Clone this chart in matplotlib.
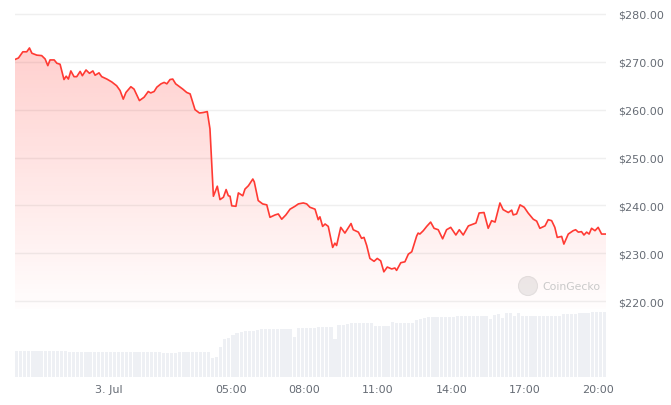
import numpy as np
import matplotlib
matplotlib.use("Agg")
import matplotlib.pyplot as plt
from matplotlib.patches import Ellipse
from matplotlib.colors import LinearSegmentedColormap

# price, hours since 3 Jul 00:00
hours = [-3.82, -3.68, -3.50, -3.34, -3.23, -3.13, -2.93, -2.73, -2.59, -2.48,
         -2.39, -2.22, -2.11, -1.98, -1.82, -1.73, -1.64, -1.54, -1.41, -1.30,
         -1.16, -1.07, -0.92, -0.78, -0.64, -0.55, -0.39, -0.28, -0.07, 0.13,
         0.33, 0.47, 0.60, 0.71, 0.91, 1.04, 1.26, 1.45, 1.62, 1.72,
         1.86, 1.97, 2.14, 2.27, 2.38, 2.51, 2.62, 2.74, 2.92, 3.03,
         3.19, 3.33, 3.53, 3.71, 3.86, 4.03, 4.14, 4.28, 4.44, 4.55,
         4.69, 4.80, 4.89, 4.96, 5.03, 5.20, 5.30, 5.48, 5.57, 5.71,
         5.89, 5.95, 6.11, 6.29, 6.46, 6.59, 6.80, 6.93, 7.07, 7.24,
         7.41, 7.61, 7.75, 7.95, 8.09, 8.22, 8.43, 8.56, 8.63, 8.74,
         8.84, 8.97, 9.15, 9.24, 9.31, 9.48, 9.65, 9.75, 9.90, 9.99,
         10.20, 10.33, 10.43, 10.54, 10.67, 10.84, 10.97, 11.11, 11.24, 11.38,
         11.56, 11.69, 11.76, 11.93, 12.10, 12.24, 12.38, 12.58, 12.64, 12.71,
         12.85, 12.99, 13.15, 13.29, 13.46, 13.64, 13.80, 13.97, 14.18, 14.32,
         14.48, 14.69, 14.89, 15.00, 15.13, 15.33, 15.50, 15.64, 15.78, 15.98,
         16.11, 16.32, 16.46, 16.52, 16.66, 16.80, 16.97, 17.13, 17.34, 17.48,
         17.61, 17.82, 17.95, 18.09, 18.22, 18.32, 18.50, 18.59, 18.77, 18.97,
         19.07, 19.18, 19.31, 19.41, 19.52, 19.62, 19.72, 19.86, 19.99, 20.13,
         20.31]
prices = [270.5, 270.8, 272.1, 272.1, 272.9, 271.8, 271.4, 271.3, 270.6, 269.2,
          270.4, 270.4, 269.7, 269.5, 266.3, 267.0, 266.4, 268.1, 266.9, 266.9,
          268.0, 267.1, 268.3, 267.6, 268.1, 267.2, 267.7, 266.9, 266.4, 265.8,
          265.0, 264.0, 262.2, 263.6, 264.8, 264.3, 261.9, 262.6, 263.8, 263.5,
          263.8, 264.7, 265.4, 265.7, 265.4, 266.3, 266.4, 265.4, 264.7, 264.3,
          263.6, 263.3, 260.0, 259.3, 259.4, 259.6, 256.0, 241.9, 244.0, 241.2,
          241.7, 243.3, 242.0, 241.9, 239.9, 239.8, 242.6, 242.0, 243.4, 244.1,
          245.5, 244.9, 241.0, 240.3, 240.1, 237.5, 238.0, 238.2, 237.1, 238.0,
          239.2, 239.8, 240.3, 240.5, 240.3, 239.6, 239.2, 237.0, 237.6, 235.6,
          236.1, 235.6, 231.2, 232.1, 231.6, 235.4, 234.2, 235.0, 236.2, 234.9,
          234.4, 233.1, 233.3, 231.6, 228.9, 228.3, 228.9, 228.4, 226.1, 227.1,
          226.7, 226.9, 226.4, 228.0, 228.2, 229.8, 230.3, 233.6, 234.2, 234.0,
          234.7, 235.6, 236.5, 235.2, 234.9, 233.0, 234.9, 235.4, 233.8, 234.9,
          233.8, 235.7, 236.1, 236.3, 238.4, 238.5, 235.2, 236.8, 236.5, 240.5,
          239.1, 238.5, 239.0, 238.0, 238.2, 240.1, 239.6, 238.4, 237.1, 236.7,
          235.2, 235.7, 237.0, 236.8, 235.4, 233.3, 233.5, 231.9, 234.0, 234.7,
          234.9, 234.4, 234.5, 233.8, 234.4, 234.0, 235.2, 234.7, 235.4, 234.0,
          234.0]

# 24h volume (relative), one bar per 10 minutes
volume = [26.3, 26.3, 26.2, 26.3, 26.2, 26.1, 26.0, 26.0, 25.9, 25.8, 25.8, 25.7,
          25.6, 25.5, 25.5, 25.5, 25.4, 25.4, 25.4, 25.5, 25.4, 25.4, 25.3, 25.3,
          25.3, 25.4, 25.3, 25.3, 25.2, 25.2, 25.2, 25.1, 25.1, 25.0, 24.8, 24.6,
          24.2, 24.1, 24.2, 24.4,
          24.8, 25.0, 25.1, 25.1, 25.2, 25.2, 25.1, 25.0,
          19.0, 20.5,
          30.0, 38.0, 39.0, 42.0, 44.0,
          45.3, 45.7, 45.7, 45.8,
          47.0, 47.6, 48.0, 48.0, 48.2, 48.2, 48.3, 48.3, 48.5,
          40.0,
          49.2, 49.3, 49.4, 49.5, 49.5, 49.6, 49.7, 49.8, 50.0,
          38.0,
          52.0, 52.3,
          53.5, 53.8, 54.0, 54.0, 54.2, 54.3, 54.5,
          51.5, 51.3, 51.3, 51.5,
          55.5,
          53.7, 53.7, 53.8, 53.8, 54.0,
          57.5, 58.0,
          59.5, 59.8, 60.0, 60.2, 60.3, 60.4, 60.5, 60.5, 60.6, 60.6, 60.7, 60.7,
          60.8, 60.8, 60.9, 60.9,
          58.0,
          62.5, 62.7,
          59.5,
          64.0, 64.2,
          61.0,
          64.5,
          60.7, 60.7, 60.8, 60.8, 60.9, 60.9, 61.0, 61.0, 61.2, 61.5,
          62.8, 63.0, 63.0, 63.2,
          64.0, 64.3, 64.5, 64.6, 64.7, 64.8, 65.0]
vol_hours = hours[0] + np.arange(len(volume)) / 6.0

xticks = [0, 5, 8, 11, 14, 17, 20]
xticklabels = ["3. Jul", "05:00", "08:00", "11:00", "14:00", "17:00", "20:00"]
yticks = [220, 230, 240, 250, 260, 270, 280]

W, H = 671, 406
fig = plt.figure(figsize=(W / 100, H / 100), dpi=100)
fig.patch.set_facecolor("white")

xmin, xmax = hours[0], hours[-1]
lab_color = "#666c75"

# volume axis (bottom)
axv = fig.add_axes([15 / W, 1 - 378 / H, 591 / W, 78 / H], zorder=1)
axv.bar(vol_hours, volume, width=1 / 6 * 0.78, align="edge", color="#eef0f4", linewidth=0)
axv.set_xlim(xmin, xmax)
axv.set_ylim(0, 78)
for s in axv.spines.values():
    s.set_visible(False)
axv.set_yticks([])
axv.set_xticks(xticks)
axv.set_xticklabels(xticklabels, fontsize=8, color=lab_color)
axv.tick_params(axis="x", length=0, pad=5)
axv.patch.set_alpha(0)

# price axis
ymin, ymax = 218.33, 282.09
ax = fig.add_axes([15 / W, 1 - 310 / H, 591 / W, 305 / H], zorder=2)
ax.patch.set_alpha(0)
ax.set_xlim(xmin, xmax)
ax.set_ylim(ymin, ymax)
for s in ax.spines.values():
    s.set_visible(False)
ax.set_xticks([])
ax.yaxis.tick_right()
ax.set_yticks(yticks)
ax.set_yticklabels(["$%.2f" % v for v in yticks], fontsize=8, color=lab_color)
ax.tick_params(axis="y", length=0, pad=9)
ax.grid(axis="y", color="#efefef", linewidth=1)
ax.set_axisbelow(True)

# gradient fill under line
fill = ax.fill_between(hours, prices, ymin, facecolor="none", edgecolor="none")
cmap = LinearSegmentedColormap.from_list(
    "redfade", [(1, 0.23, 0.2, 0.01), (1, 0.23, 0.2, 0.24)])
grad = np.linspace(0, 1, 256).reshape(-1, 1)
im = ax.imshow(grad, extent=[xmin, xmax, ymin, max(prices)], origin="lower",
               aspect="auto", cmap=cmap, zorder=1)
im.set_clip_path(fill.get_paths()[0], transform=ax.transData)
ax.set_xlim(xmin, xmax)
ax.set_ylim(ymin, ymax)

ax.plot(hours, prices, color="#ff3a33", linewidth=1.2, zorder=3,
        solid_joinstyle="round")

# watermark
fig.add_artist(Ellipse((528 / W, 1 - 287 / H), 19 / W, 19 / H,
                       transform=fig.transFigure, facecolor="#ececec",
                       edgecolor="#e2e2e2", linewidth=0.8))
fig.text(542 / W, 1 - 287 / H, "CoinGecko", fontsize=7.8, color="#c9c9c9",
         va="center", ha="left")

fig.savefig("out.png", dpi=100)
